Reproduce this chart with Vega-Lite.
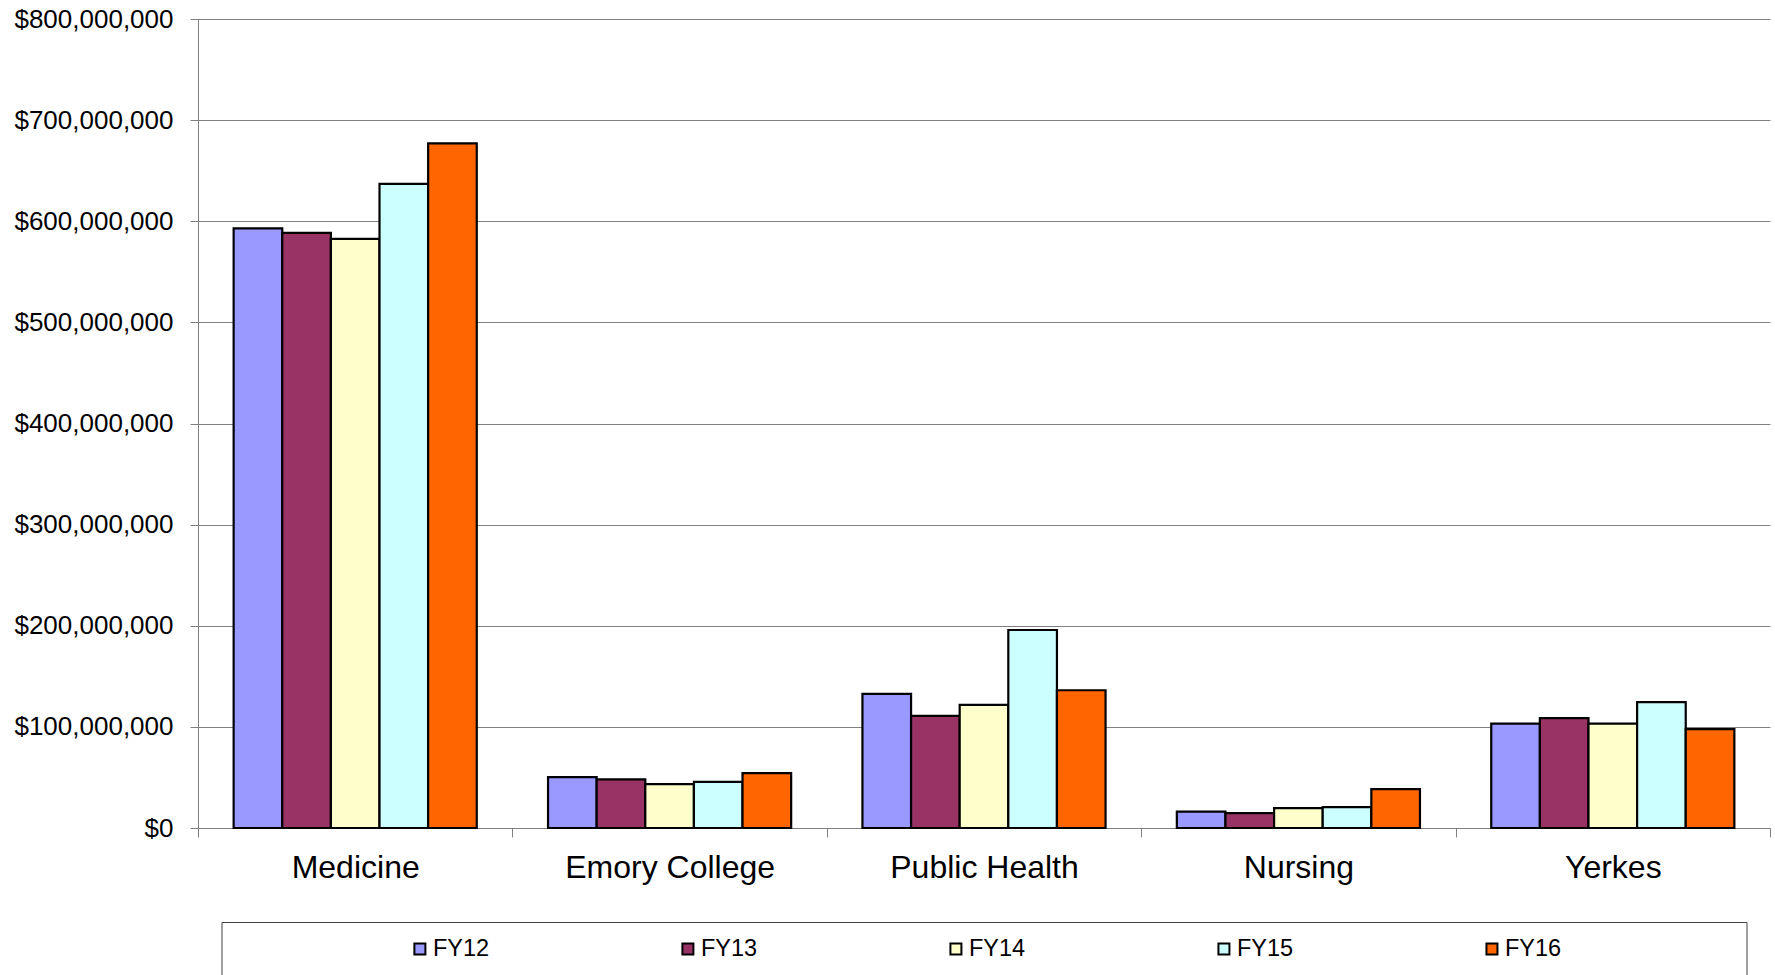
{
  "$schema": "https://vega.github.io/schema/vega-lite/v6.json",
  "padding": {"left": 13, "top": 6, "right": 0, "bottom": 0},
  "background": "white",
  "config": {
    "font": "Liberation Sans",
    "axis": {"labelFont": "Liberation Sans", "labelColor": "black"},
    "text": {"font": "Liberation Sans"}
  },
  "datasets": {
    "funding": [
      {"department": "Medicine", "year": "FY12", "amount": 593000000},
      {"department": "Medicine", "year": "FY13", "amount": 588500000},
      {"department": "Medicine", "year": "FY14", "amount": 582600000},
      {"department": "Medicine", "year": "FY15", "amount": 637000000},
      {"department": "Medicine", "year": "FY16", "amount": 677000000},
      {"department": "Emory College", "year": "FY12", "amount": 50300000},
      {"department": "Emory College", "year": "FY13", "amount": 48000000},
      {"department": "Emory College", "year": "FY14", "amount": 43400000},
      {"department": "Emory College", "year": "FY15", "amount": 45700000},
      {"department": "Emory College", "year": "FY16", "amount": 54300000},
      {"department": "Public Health", "year": "FY12", "amount": 132600000},
      {"department": "Public Health", "year": "FY13", "amount": 110900000},
      {"department": "Public Health", "year": "FY14", "amount": 121700000},
      {"department": "Public Health", "year": "FY15", "amount": 195800000},
      {"department": "Public Health", "year": "FY16", "amount": 136200000},
      {"department": "Nursing", "year": "FY12", "amount": 16100000},
      {"department": "Nursing", "year": "FY13", "amount": 14800000},
      {"department": "Nursing", "year": "FY14", "amount": 19700000},
      {"department": "Nursing", "year": "FY15", "amount": 20700000},
      {"department": "Nursing", "year": "FY16", "amount": 38500000},
      {"department": "Yerkes", "year": "FY12", "amount": 103300000},
      {"department": "Yerkes", "year": "FY13", "amount": 108600000},
      {"department": "Yerkes", "year": "FY14", "amount": 103300000},
      {"department": "Yerkes", "year": "FY15", "amount": 124400000},
      {"department": "Yerkes", "year": "FY16", "amount": 97700000}
    ]
  },
  "bounds": "flush",
  "center": true,
  "spacing": 94,
  "resolve": {"scale": {"x": "independent", "y": "independent"}},
  "vconcat": [
    {
      "width": 1572,
      "height": 809,
      "view": {"stroke": null},
      "data": {"name": "funding"},
      "mark": {"type": "bar", "stroke": "black", "strokeWidth": 2.2, "opacity": 1},
      "encoding": {
        "x": {
          "field": "department",
          "type": "nominal",
          "sort": ["Medicine", "Emory College", "Public Health", "Nursing", "Yerkes"],
          "scale": {"paddingInner": 0, "paddingOuter": 0},
          "axis": {
            "title": null,
            "labelAngle": 0,
            "labelFontSize": 32,
            "labelLimit": 0,
            "labelPadding": 15,
            "tickBand": "extent",
            "tickSize": 9,
            "tickColor": "#808080",
            "domainColor": "#808080",
            "grid": false
          }
        },
        "xOffset": {"field": "year", "type": "nominal", "scale": {"paddingInner": 0, "paddingOuter": 0.733}},
        "y": {
          "field": "amount",
          "type": "quantitative",
          "scale": {"domain": [0, 800000000], "nice": false},
          "axis": {
            "title": null,
            "values": [0, 100000000, 200000000, 300000000, 400000000, 500000000, 600000000, 700000000, 800000000],
            "format": "$,.0f",
            "labelFontSize": 26,
            "labelPadding": 17,
            "tickSize": 8,
            "tickColor": "#808080",
            "domainColor": "#808080",
            "gridColor": "#808080",
            "gridOpacity": 1,
            "grid": true
          }
        },
        "color": {
          "field": "year",
          "type": "nominal",
          "scale": {
            "domain": ["FY12", "FY13", "FY14", "FY15", "FY16"],
            "range": ["#9999FF", "#993366", "#FFFFCC", "#CCFFFF", "#FF6600"]
          },
          "legend": null
        }
      }
    },
    {
      "width": 1525,
      "height": 54,
      "view": {"stroke": "#404040", "strokeWidth": 1},
      "data": {"name": "funding"},
      "transform": [{"aggregate": [{"op": "count", "as": "n"}], "groupby": ["year"]}],
      "layer": [
        {
          "mark": {"type": "point", "shape": "square", "filled": true, "size": 121, "stroke": "black", "strokeWidth": 2, "opacity": 1},
          "encoding": {
            "x": {
              "field": "year",
              "type": "nominal",
              "scale": {"type": "point", "padding": 0.845, "align": 0.438},
              "axis": null
            },
            "color": {
              "field": "year",
              "type": "nominal",
              "scale": {
                "domain": ["FY12", "FY13", "FY14", "FY15", "FY16"],
                "range": ["#9999FF", "#993366", "#FFFFCC", "#CCFFFF", "#FF6600"]
              },
              "legend": null
            }
          }
        },
        {
          "mark": {"type": "text", "align": "left", "dx": 13, "fontSize": 23.5, "color": "black"},
          "encoding": {
            "x": {"field": "year", "type": "nominal"},
            "text": {"field": "year"}
          }
        }
      ]
    }
  ]
}
